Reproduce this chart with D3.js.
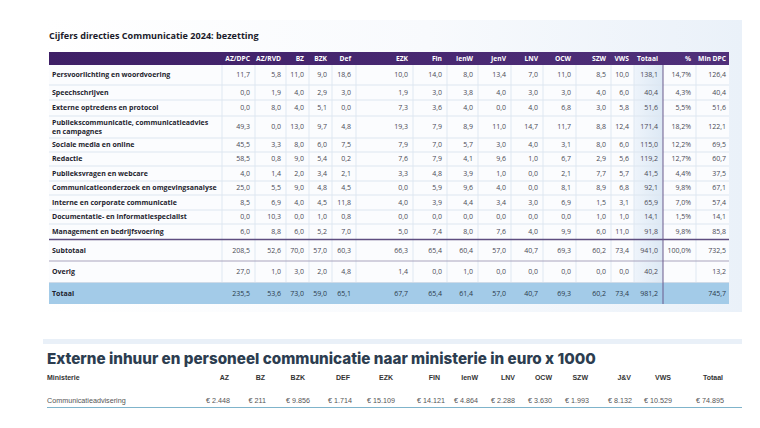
<!DOCTYPE html>
<html><head><meta charset="utf-8">
<script src="https://cdn.jsdelivr.net/npm/d3@7/dist/d3.min.js"></script>
<style>
html,body{margin:0;padding:0;background:#fff;}
svg{display:block;}
</style></head>
<body>
<svg id="chart" width="760" height="428"></svg>
<script>
// ---------- DATA ----------
const title1 = "Cijfers directies Communicatie 2024: bezetting";
const columns = ["AZ/DPC","AZ/RVD","BZ","BZK","Def","EZK","Fin","IenW","JenV","LNV","OCW","SZW","VWS","Totaal","%","Min DPC"];
const categories = [
  "Persvoorlichting en woordvoering",
  "Speechschrijven",
  "Externe optredens en protocol",
  "Publiekscommunicatie, communicatieadvies\nen campagnes",
  "Sociale media en online",
  "Redactie",
  "Publieksvragen en webcare",
  "Communicatieonderzoek en omgevingsanalyse",
  "Interne en corporate communicatie",
  "Documentatie- en informatiespecialist",
  "Management en bedrijfsvoering",
  "Subtotaal",
  "Overig",
  "Totaal"
];
const persvoorlichting = [11.7,5.8,11.0,9.0,18.6,10.0,14.0,8.0,13.4,7.0,11.0,8.5,10.0,138.1,14.7,126.4];
const speechschrijven = [0.0,1.9,4.0,2.9,3.0,1.9,3.0,3.8,4.0,3.0,3.0,4.0,6.0,40.4,4.3,40.4];
const externeOptredens = [0.0,8.0,4.0,5.1,0.0,7.3,3.6,4.0,0.0,4.0,6.8,3.0,5.8,51.6,5.5,51.6];
const publiekscommunicatie = [49.3,0.0,13.0,9.7,4.8,19.3,7.9,8.9,11.0,14.7,11.7,8.8,12.4,171.4,18.2,122.1];
const socialeMedia = [45.5,3.3,8.0,6.0,7.5,7.9,7.0,5.7,3.0,4.0,3.1,8.0,6.0,115.0,12.2,69.5];
const redactie = [58.5,0.8,9.0,5.4,0.2,7.6,7.9,4.1,9.6,1.0,6.7,2.9,5.6,119.2,12.7,60.7];
const publieksvragen = [4.0,1.4,2.0,3.4,2.1,3.3,4.8,3.9,1.0,0.0,2.1,7.7,5.7,41.5,4.4,37.5];
const onderzoek = [25.0,5.5,9.0,4.8,4.5,0.0,5.9,9.6,4.0,0.0,8.1,8.9,6.8,92.1,9.8,67.1];
const interne = [8.5,6.9,4.0,4.5,11.8,4.0,3.9,4.4,3.4,3.0,6.9,1.5,3.1,65.9,7.0,57.4];
const documentatie = [0.0,10.3,0.0,1.0,0.8,0.0,0.0,0.0,0.0,0.0,0.0,1.0,1.0,14.1,1.5,14.1];
const management = [6.0,8.8,6.0,5.2,7.0,5.0,7.4,8.0,7.6,4.0,9.9,6.0,11.0,91.8,9.8,85.8];
const subtotaal = [208.5,52.6,70.0,57.0,60.3,66.3,65.4,60.4,57.0,40.7,69.3,60.2,73.4,941.0,100.0,732.5];
const overig = [27.0,1.0,3.0,2.0,4.8,1.4,0.0,1.0,0.0,0.0,0.0,0.0,0.0,40.2,null,13.2];
const totaal = [235.5,53.6,73.0,59.0,65.1,67.7,65.4,61.4,57.0,40.7,69.3,60.2,73.4,981.2,null,745.7];

const title2 = "Externe inhuur en personeel communicatie naar ministerie in euro x 1000";
const inhuurFirstHeader = "Ministerie";
const inhuurRowLabel = "Communicatieadvisering";
const ministeries = ["AZ","BZ","BZK","DEF","EZK","FIN","IenW","LNV","OCW","SZW","J&V","VWS","Totaal"];
const inhuur = [2448,211,9856,1714,15109,14121,4864,2288,3630,1993,8132,10529,74895];

// ---------- SETUP ----------
const rowsData = [persvoorlichting,speechschrijven,externeOptredens,publiekscommunicatie,socialeMedia,redactie,
  publieksvragen,onderzoek,interne,documentatie,management,subtotaal,overig,totaal];

const nl = d3.formatLocale({decimal:",", thousands:".", grouping:[3], currency:["€ ",""]});
const f1 = nl.format(".1f");
const fEuro = nl.format("$,");

const svg = d3.select("#chart");
const defs = svg.append("defs");
const FONT = "'Open Sans', 'Noto Sans', sans-serif";

function fit(sel, target){
  const w = sel.node().getComputedTextLength();
  const fs = parseFloat(sel.attr("font-size"));
  sel.attr("font-size", fs * target / w);
}

// panel background
const g1 = defs.append("linearGradient").attr("id","panelGrad").attr("x1","0").attr("x2","1").attr("y1","0").attr("y2","0");
g1.append("stop").attr("offset","0").attr("stop-color","#ffffff");
g1.append("stop").attr("offset","0.55").attr("stop-color","#f8fafd");
g1.append("stop").attr("offset","1").attr("stop-color","#eaf1f9");
svg.append("rect").attr("x",43).attr("y",20).attr("width",699).attr("height",292).attr("fill","url(#panelGrad)");

const tX0 = 49, tX1 = 729;
svg.append("rect").attr("x",tX0).attr("y",65).attr("width",tX1-tX0).attr("height",239).attr("fill","#fbfcfe");

// title
const t1 = svg.append("text").attr("x",49).attr("y",39).attr("font-family",FONT).attr("font-weight",700)
  .attr("font-size",10).attr("fill","#1b1b2b").text(title1);
fit(t1, 210);

// column scales (layout)
const colRight = d3.scaleOrdinal().domain(columns)
  .range([250,281,304,327,351,408,442,473,506,538,571,606,629,658,691,726]);
const colBound = d3.scaleOrdinal().domain(columns)
  .range([222,255,286,309,332,356,413,447,478,511,543,576,611,634,663,696]);

// row bands (layout)
const rowTop = [65,85,100,116,138,152,166,181,195,210,224,239.5,261,282.5];
const rowBottom = [85,100,116,138,152,166,181,195,210,224,239.5,261,282.5,304];
const rowY = d3.scaleOrdinal().domain(categories).range(rowTop);
const rowH = d3.scaleOrdinal().domain(categories).range(rowTop.map((t,i)=>rowBottom[i]-t));

// Totaal column shading
const gT = defs.append("linearGradient").attr("id","totGrad").attr("x1","0").attr("x2","1");
gT.append("stop").attr("offset","0").attr("stop-color","#eef4fb");
gT.append("stop").attr("offset","1").attr("stop-color","#dce8f4");
svg.append("rect").attr("x",colBound("Totaal")).attr("y",65).attr("width",colBound("%")-colBound("Totaal")).attr("height",217.5)
  .attr("fill","url(#totGrad)");

// Totaal row band
const lastCat = categories[categories.length-1];
svg.append("rect").attr("x",tX0).attr("y",rowY(lastCat)).attr("width",tX1-tX0).attr("height",rowH(lastCat)).attr("fill","#a3cbe8");

// vertical separators
svg.append("g").selectAll("line").data(columns.filter(c=>c!=="%")).join("line")
  .attr("x1",c=>colBound(c)).attr("x2",c=>colBound(c)).attr("y1",65).attr("y2",282.5)
  .attr("stroke","#dfe8f2").attr("stroke-width",1);

// horizontal row separators
svg.append("g").selectAll("line").data(categories.slice(0,10)).join("line")
  .attr("x1",tX0).attr("x2",tX1).attr("y1",c=>rowY(c)+rowH(c)).attr("y2",c=>rowY(c)+rowH(c))
  .attr("stroke","#dde6f0").attr("stroke-width",1);
svg.append("line").attr("x1",tX0).attr("x2",tX1).attr("y1",239.5).attr("y2",239.5).attr("stroke","#5e4d80").attr("stroke-width",1.3);
svg.append("line").attr("x1",tX0).attr("x2",tX1).attr("y1",261).attr("y2",261).attr("stroke","#a9a4bd").attr("stroke-width",1);
svg.append("line").attr("x1",tX0).attr("x2",tX1).attr("y1",282.5).attr("y2",282.5).attr("stroke","#cfdbe8").attr("stroke-width",1);

// purple divider after Totaal
svg.append("line").attr("x1",colBound("%")).attr("x2",colBound("%")).attr("y1",65).attr("y2",304)
  .attr("stroke","#6a5a8c").attr("stroke-width",1);

// header
const hg = defs.append("linearGradient").attr("id","hdrGrad").attr("x1","0").attr("x2","1");
hg.append("stop").attr("offset","0").attr("stop-color","#3e1f66");
hg.append("stop").attr("offset","1").attr("stop-color","#50307a");
svg.append("rect").attr("x",tX0).attr("y",52).attr("width",tX1-tX0).attr("height",13).attr("fill","url(#hdrGrad)");
svg.append("g").selectAll("text").data(columns).join("text")
  .attr("x",c=>colRight(c)).attr("y",58.7).attr("dy","0.35em").attr("text-anchor","end")
  .attr("font-family",FONT).attr("font-weight",700).attr("font-size",6.7).attr("fill","#ffffff").text(c=>c);

// row labels
const lab = svg.append("g").selectAll("text").data(categories).join("text")
  .attr("font-family",FONT).attr("font-weight",700).attr("font-size",7).attr("fill","#1e1e2e");
lab.each(function(c){
  const lines = c.split("\n");
  const yc = rowY(c) + rowH(c)/2;
  const sel = d3.select(this);
  lines.forEach((ln,i)=>{
    sel.append("tspan").attr("x",52).attr("y", yc + (i - (lines.length-1)/2)*9.8).attr("dy","0.35em").text(ln);
  });
});

// values
const cells = [];
rowsData.forEach((arr,ri)=>arr.forEach((v,ci)=>cells.push({cat:categories[ri],col:columns[ci],v})));
svg.append("g").selectAll("text").data(cells.filter(d=>d.v!==null)).join("text")
  .attr("x",d=>colRight(d.col)).attr("y",d=>rowY(d.cat)+rowH(d.cat)/2).attr("dy","0.35em").attr("text-anchor","end")
  .attr("font-family",FONT).attr("font-size",7).attr("fill",d=>d.cat==="Totaal"?"#2a3a4a":"#4a4a55")
  .text(d=>d.col==="%" ? f1(d.v)+"%" : f1(d.v));

// ---------- SECOND TABLE ----------
svg.append("rect").attr("x",43).attr("y",339).attr("width",699).attr("height",5).attr("fill","#e9f0f8");
const t2 = svg.append("text").attr("x",47).attr("y",364).attr("font-family","Inter, 'DejaVu Sans', sans-serif")
  .attr("font-weight",800).attr("font-size",16).attr("fill","#2c3d50").text(title2);
fit(t2, 549);

const hdrRight = d3.scaleOrdinal().domain(ministeries).range([229,265,305,350,393,440,478,515,552,588,631,671,723]);
const valRight = d3.scaleOrdinal().domain(ministeries).range([230,266,310,352,395,445,478,515,552,589,632,672,724]);

const F2 = "'Liberation Sans', Arial, sans-serif";
svg.append("text").attr("x",47).attr("y",378).attr("dy","0.35em").attr("font-family",F2).attr("font-weight",700)
  .attr("font-size",7).attr("fill","#333").text(inhuurFirstHeader);
svg.append("g").selectAll("text").data(ministeries).join("text")
  .attr("x",m=>hdrRight(m)).attr("y",378).attr("dy","0.35em").attr("text-anchor","end")
  .attr("font-family",F2).attr("font-weight",700).attr("font-size",7).attr("fill","#333").text(m=>m);

svg.append("text").attr("x",47).attr("y",400).attr("dy","0.35em").attr("font-family",F2)
  .attr("font-size",7.2).attr("fill","#555").text(inhuurRowLabel);
svg.append("g").selectAll("text").data(ministeries.map((m,i)=>({m,v:inhuur[i]}))).join("text")
  .attr("x",d=>valRight(d.m)).attr("y",400).attr("dy","0.35em").attr("text-anchor","end")
  .attr("font-family",F2).attr("font-size",7.2).attr("fill","#555").text(d=>fEuro(d.v));

svg.append("line").attr("x1",47).attr("x2",742).attr("y1",407.5).attr("y2",407.5).attr("stroke","#7fb4cb").attr("stroke-width",1);
</script>
</body></html>
